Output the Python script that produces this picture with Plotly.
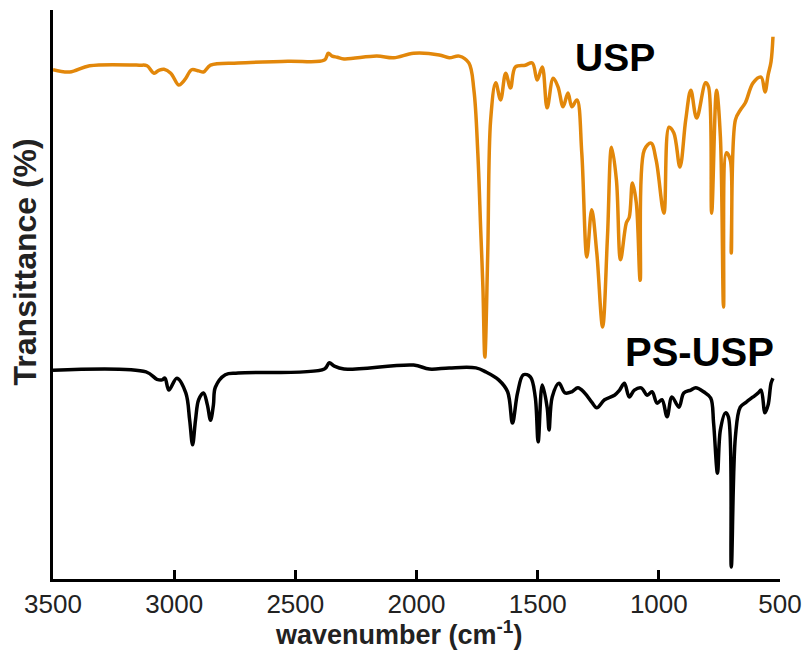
import plotly.graph_objects as go

# USP spectrum (wavenumber cm-1, transmittance a.u.)
usp_wn = [3500, 3431, 3349, 3144, 3112, 3083, 3063, 3042, 3014, 2981, 2965, 2952, 2928, 2899, 2879, 2850,
          2736, 2531, 2380, 2364, 2348, 2327, 2299, 2164, 2094, 2012, 1906, 1865, 1824, 1784, 1763,
          1747, 1735, 1726, 1718, 1706, 1694, 1673, 1653, 1632, 1612, 1592, 1551, 1522, 1502, 1481,
          1461, 1436, 1416, 1395, 1375, 1359, 1338, 1318, 1297, 1277, 1256, 1232, 1212, 1195, 1175,
          1158, 1134, 1122, 1109, 1093, 1077, 1060, 1032, 1011, 979, 958, 938, 913, 889, 868, 844,
          807, 795, 782, 762, 746, 733, 721, 705, 701, 684, 664, 643, 611, 578, 562, 549, 537, 529]
usp_t = [89.5, 89.1, 90.2, 90.3, 90.2, 88.9, 89.4, 89.6, 88.9, 86.8, 87.3, 88.0, 89.5, 89.3, 89.1, 90.3,
         90.7, 91.0, 91.2, 92.4, 91.9, 91.7, 91.4, 91.9, 91.6, 92.4, 92.1, 91.6, 91.9, 90.7, 85.9,
         74.9, 61.3, 51.3, 39.0, 57.3, 80.7, 87.2, 84.2, 88.9, 86.3, 90.0, 90.3, 90.7, 87.7, 90.0,
         82.8, 88.0, 86.5, 83.0, 85.4, 83.0, 84.2, 74.9, 56.6, 64.9, 57.3, 44.3, 60.1, 75.9, 70.1,
         56.1, 62.6, 63.6, 69.6, 66.1, 52.5, 75.4, 76.6, 73.6, 64.3, 79.4, 78.4, 72.4, 80.7, 85.9, 81.0,
         87.2, 86.5, 64.3, 85.9, 77.7, 47.8, 74.9, 73.6, 57.3, 80.7, 82.4, 83.7, 87.2, 88.2, 85.6, 88.6, 90.9, 95.3]

# PS-USP spectrum
ps_wn = [3500, 3116, 3071, 3050, 3038, 3022, 2989, 2952, 2936, 2924, 2912, 2899, 2879, 2863, 2850, 2838,
         2830, 2789, 2736, 2380, 2360, 2339, 2299, 2012, 1947, 1865, 1755, 1714, 1661, 1624, 1604,
         1583, 1559, 1530, 1510, 1498, 1481, 1461, 1453, 1440, 1412, 1387, 1359, 1334, 1306, 1277,
         1256, 1224, 1183, 1162, 1142, 1122, 1101, 1073, 1048, 1028, 1007, 987, 966, 946, 917, 897,
         868, 848, 815, 786, 774, 758, 746, 725, 713, 701, 684, 664, 639, 611, 590, 578, 562, 549, 537, 529]
ps_t = [36.7, 36.4, 35.1, 35.0, 35.3, 33.2, 35.3, 32.7, 27.9, 23.6, 27.9, 31.5, 32.7, 30.6, 27.9, 30.6,
        33.7, 35.9, 36.2, 36.9, 38.0, 37.4, 36.9, 37.6, 36.9, 37.1, 37.1, 36.4, 35.0, 32.9, 27.4,
        32.7, 35.9, 35.5, 32.0, 24.1, 34.1, 30.2, 26.2, 32.0, 34.4, 32.7, 32.9, 33.6, 32.7, 31.1,
        30.1, 31.5, 32.3, 33.2, 34.4, 32.0, 33.2, 33.6, 32.3, 32.9, 30.9, 31.5, 28.5, 32.0, 30.2, 32.7,
        33.2, 33.6, 32.9, 31.8, 27.4, 18.6, 26.2, 29.2, 28.5, 2.1, 25.0, 30.2, 31.1, 32.0, 32.7, 33.2, 29.2, 30.6, 34.4, 35.3]

x_ticks = [3500, 3000, 2500, 2000, 1500, 1000, 500]

fig = go.Figure()
fig.add_trace(go.Scatter(x=usp_wn, y=usp_t, mode="lines", name="USP",
                         line=dict(color="#E2870A", width=3.5), line_shape="spline"))
fig.add_trace(go.Scatter(x=ps_wn, y=ps_t, mode="lines", name="PS-USP",
                         line=dict(color="#000000", width=3.5), line_shape="spline"))

fig.add_annotation(x=1179, y=91.7, text="<b>USP</b>", showarrow=False,
                   font=dict(family="Liberation Sans", size=39, color="black"))
fig.add_annotation(x=831, y=39.9, text="<b>PS-USP</b>", showarrow=False,
                   font=dict(family="Liberation Sans", size=40, color="black"))

# axis titles
fig.add_annotation(xref="paper", yref="paper", x=0.4755, y=-0.1265, xanchor="center", yanchor="bottom",
                   text="<b>wavenumber (cm<sup>-1</sup>)</b>", showarrow=False, borderpad=0,
                   font=dict(family="Liberation Sans", size=27, color="#222"))
fig.add_annotation(xref="paper", yref="paper", x=-0.038, y=0.557, xanchor="center", yanchor="middle",
                   text="<b>Transittance (%)</b>", showarrow=False, textangle=-90,
                   font=dict(family="Liberation Sans", size=32, color="#222"))

fig.update_layout(
    width=812, height=652,
    margin=dict(l=53, r=25, t=10, b=73),
    paper_bgcolor="white", plot_bgcolor="white",
    showlegend=False,
    font=dict(family="Liberation Sans", color="#222"),
    xaxis=dict(range=[3500, 500], tickvals=x_ticks, ticktext=[str(v) for v in x_ticks],
               ticks="inside", ticklen=9, tickwidth=3, tickcolor="black",
               showline=True, linecolor="black", linewidth=3, showgrid=False, zeroline=False,
               tickfont=dict(size=26, color="#222")),
    yaxis=dict(range=[0, 100], showticklabels=False, ticks="", showline=True,
               linecolor="black", linewidth=3, showgrid=False, zeroline=False),
)

fig.write_html("out.html")
